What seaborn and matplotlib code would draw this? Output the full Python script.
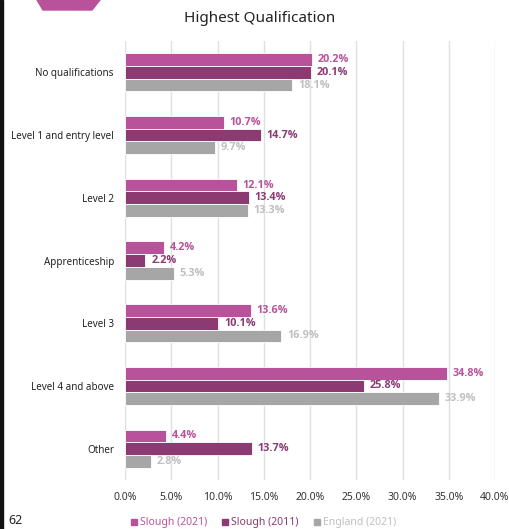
import matplotlib
matplotlib.use("Agg")
import matplotlib.pyplot as plt
from matplotlib.patches import Polygon, Rectangle
import seaborn as sns
import pandas as pd

categories = ["No qualifications", "Level 1 and entry level", "Level 2",
              "Apprenticeship", "Level 3", "Level 4 and above", "Other"]
series_names = ["Slough (2021)", "Slough (2011)", "England (2021)"]
slough_2021 = [20.2, 10.7, 12.1, 4.2, 13.6, 34.8, 4.4]
slough_2011 = [20.1, 14.7, 13.4, 2.2, 10.1, 25.8, 13.7]
england_2021 = [18.1, 9.7, 13.3, 5.3, 16.9, 33.9, 2.8]
x_ticks = [0, 5, 10, 15, 20, 25, 30, 35, 40]

bar_colors = ["#B8539B", "#8C3A72", "#A6A6A6"]
label_colors = ["#B8539B", "#8C3A72", "#BFBFBF"]

rows = []
for name, vals in zip(series_names, [slough_2021, slough_2011, england_2021]):
    for cat, v in zip(categories, vals):
        rows.append({"Qualification": cat, "Series": name, "Percent": v})
df = pd.DataFrame(rows)

sns.set_theme(style="white")
plt.rcParams["font.family"] = ["Noto Sans", "DejaVu Sans"]

fig = plt.figure(figsize=(5.09, 5.29), dpi=100)
W, H = 509, 529
ax = fig.add_axes([125 / W, 1 - 480 / H, 370 / W, 439 / H])

sns.barplot(data=df, y="Qualification", x="Percent", hue="Series",
            order=categories, hue_order=series_names, palette=bar_colors,
            orient="h", width=0.61, edgecolor="white", linewidth=0.6,
            saturation=1, legend=False, ax=ax)

for cont, col in zip(ax.containers, label_colors):
    ax.bar_label(cont, labels=[f"{v:.1f}%" for v in cont.datavalues],
                 padding=4.2, color=col, fontsize=7.8, fontweight="bold",
                 fontfamily=["Open Sans", "DejaVu Sans"])

ax.set_xlim(0, 40)
ax.set_ylim(len(categories) - 0.5, -0.5)
ax.set_xticks(x_ticks)
ax.set_xticklabels([f"{t:.1f}%" for t in x_ticks], fontsize=7.5, color="#333333")
ax.tick_params(axis="y", labelsize=7.1, labelcolor="#222222", length=0, pad=8)
ax.tick_params(axis="x", length=0, pad=9)
ax.xaxis.grid(True, color="#E0E0E0", linewidth=1)
ax.set_axisbelow(True)
ax.set_xlabel("")
ax.set_ylabel("")
for s in ax.spines.values():
    s.set_visible(False)

fig.text(260 / W, 1 - 18 / H, "Highest Qualification", ha="center", va="center",
         fontsize=11, color="#222222")

# legend row
legend_items = [(131, "Slough (2021)"), (222, "Slough (2011)"), (314, "England (2021)")]
for (x0, name), bc, lc in zip(legend_items, bar_colors, label_colors):
    fig.patches.append(Rectangle((x0 / W, 1 - 525 / H), 6 / W, 6 / H,
                                 transform=fig.transFigure, color=bc))
    fig.text((x0 + 9) / W, 1 - 522 / H, name, ha="left", va="center",
             fontsize=7.5, color=lc)

fig.text(8 / W, 1 - 521 / H, "62", ha="left", va="center", fontsize=9, color="#222222")

# page decoration: hexagon tab and left rule
hexagon = Polygon([(30 / W, 1.02), (37 / W, 1.0), (43 / W, 1 - 10 / H),
                   (92 / W, 1 - 10 / H), (100 / W, 1.0), (106 / W, 1.02)],
                  closed=True, transform=fig.transFigure, color="#B8539B")
fig.patches.append(hexagon)
fig.patches.append(Rectangle((0, 0), 2.5 / W, 1, transform=fig.transFigure,
                             color="#111111"))

fig.savefig("out.png", dpi=100)
